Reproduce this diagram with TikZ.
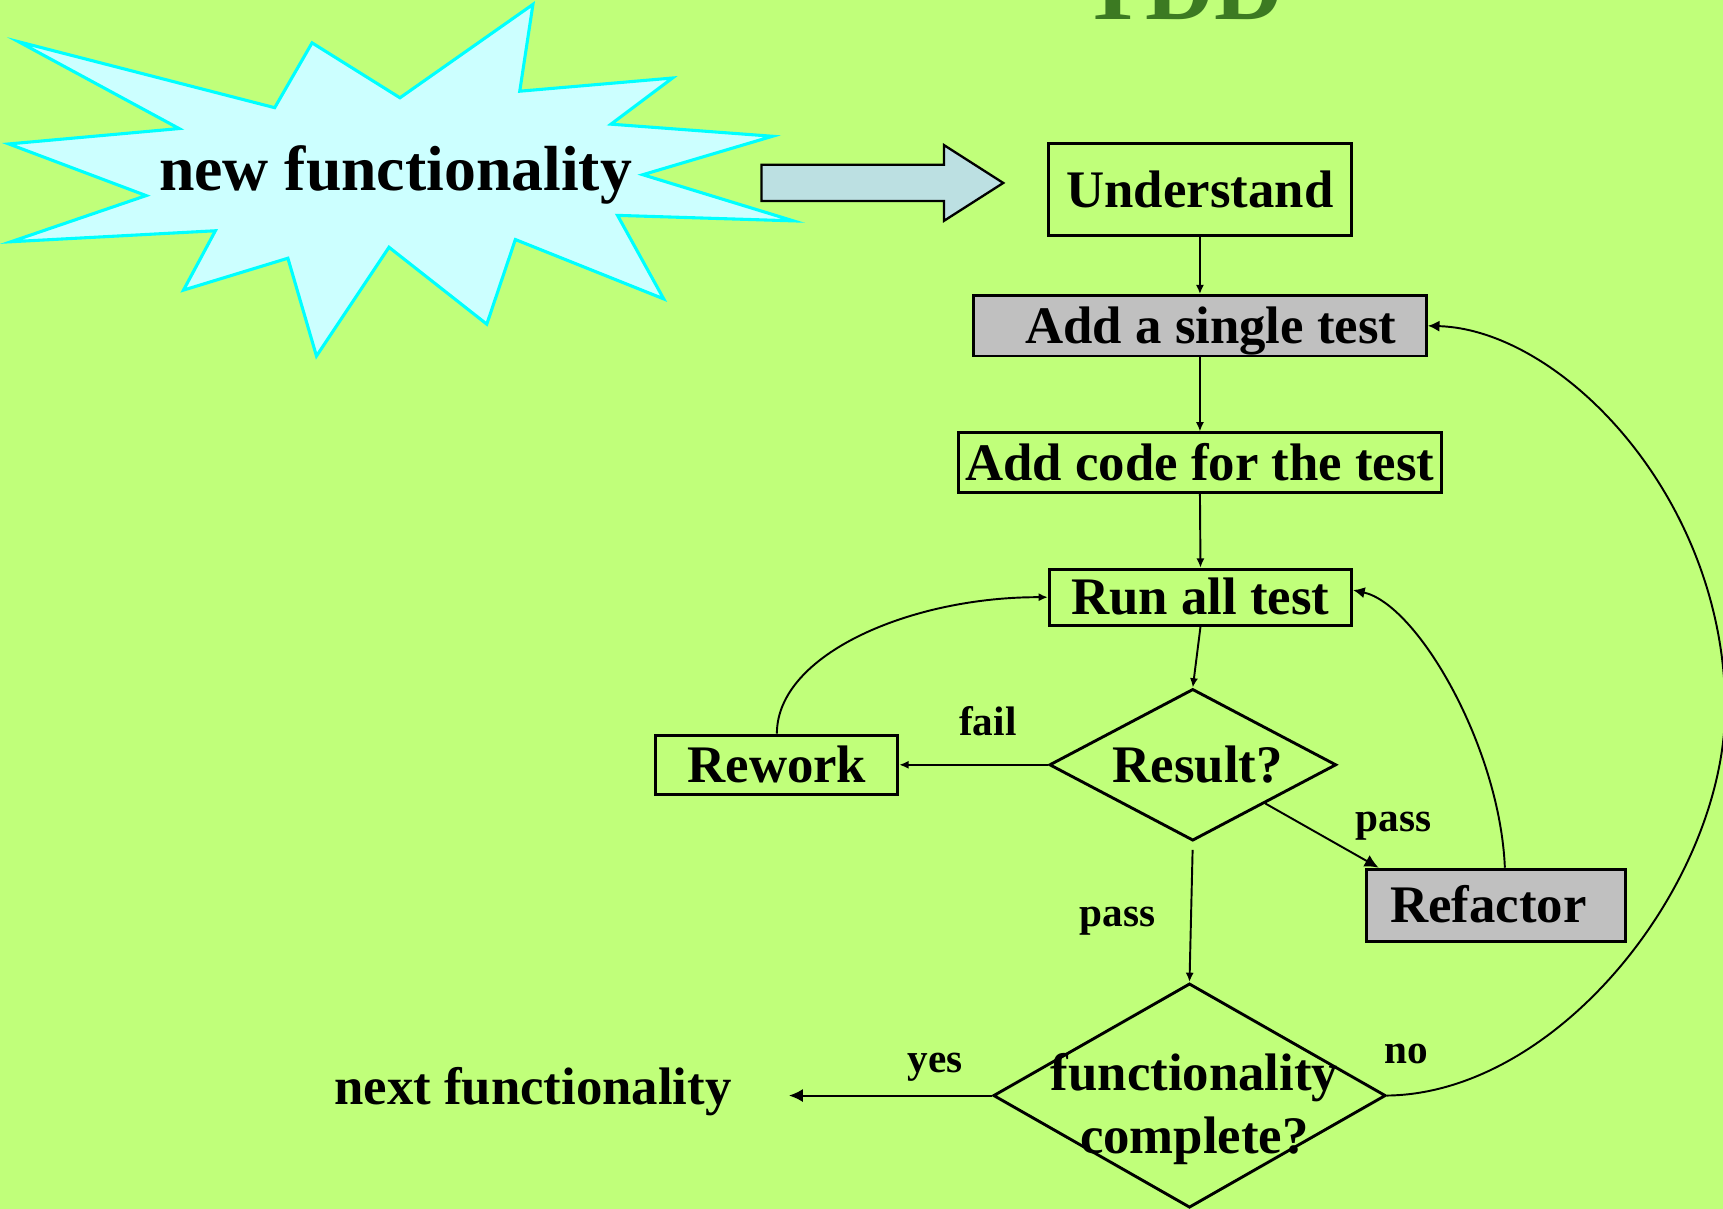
\documentclass[tikz,border=0pt]{standalone}
\usepackage{fontspec}
\setmainfont{Liberation Serif}
\usetikzlibrary{shapes.geometric,arrows.meta}

\definecolor{pagegreen}{RGB}{192,255,122}
\definecolor{titlegreen}{RGB}{60,122,34}
\definecolor{burstfill}{RGB}{204,255,255}
\definecolor{burstline}{RGB}{0,255,255}
\definecolor{arrowfill}{RGB}{188,224,226}
\definecolor{boxgrey}{RGB}{192,192,192}

\begin{document}
\begin{tikzpicture}[x=0.01cm,y=-0.01cm,
  boxfont/.style={font=\fontsize{13.66pt}{16pt}\selectfont\bfseries},
  stepbox/.style={boxfont, draw=black, line width=0.75pt, inner sep=0pt,
    text height=9.04pt, text depth=0pt},
  greybox/.style={stepbox, fill=boxgrey},
  decision/.style={boxfont, diamond, draw=black, line width=0.75pt, inner sep=0pt,
    text height=9.04pt, text depth=0pt},
  steptext/.style={boxfont, inner sep=0pt, anchor=base},
  lbl/.style={font=\fontsize{10.67pt}{12pt}\selectfont\bfseries, inner sep=0pt, anchor=base},
  flow/.style={-{Latex[length=2.4pt,width=2.1pt]}, line width=0.5pt},
  flowmid/.style={-{Latex[length=3pt,width=2.9pt]}, line width=0.5pt},
  flowbig/.style={-{Latex[length=3.6pt,width=3.4pt]}, line width=0.5pt},
  burst/.style={fill=burstfill, draw=burstline, line width=0.8pt, line join=miter},
  blockarrow/.style={fill=arrowfill, draw=black, line width=0.6pt, line join=miter}
]
\useasboundingbox (0,0) rectangle (1568,1100);
\fill[pagegreen] (0,0) rectangle (1568,1100);

% title, cut by the top edge
\node[anchor=base, inner sep=0pt, text=titlegreen,
  font=\fontsize{24.75pt}{28pt}\selectfont\bfseries] (title) at (1076,18) {TDD};

% starburst with its caption
\draw[burst] (17,38) -- (250,98) -- (284,39) -- (364,89) -- (485,4)
  -- (473,83) -- (612,71) -- (556,113) -- (703,124) -- (585,159)
  -- (722,201) -- (562,196) -- (604,272) -- (469,218) -- (443,295)
  -- (354,225) -- (288,324) -- (262,235) -- (167,264) -- (196,210)
  -- (10,220) -- (133,178) -- (8,131) -- (163,117) -- cycle;
\node[anchor=base, inner sep=0pt, font=\fontsize{16.5pt}{19pt}\selectfont\bfseries]
  (newfn) at (360,173) {new functionality};

% block arrow into the process
\draw[blockarrow] (693,150) -- (859,150) -- (859,132) -- (913,166.5)
  -- (859,201) -- (859,183) -- (693,183) -- cycle;

% process steps
\node[stepbox, minimum width=2.76cm, minimum height=0.83cm] (und) at (1092,172.5) {Understand};
\node[greybox, minimum width=4.12cm, minimum height=0.55cm] (single) at (1092,296.5) {\hspace*{0.2cm}Add a single test};
\node[stepbox, minimum width=4.40cm, minimum height=0.54cm] (code) at (1092,421) {Add code for the test};
\node[stepbox, minimum width=2.75cm, minimum height=0.51cm] (run) at (1092.5,543.5) {Run all test};
\node[decision, aspect=1.89, minimum width=2.61cm, minimum height=1.38cm] (result) at (1085.5,696) {\hspace*{0.09cm}Result?};
\node[stepbox, minimum width=2.20cm, minimum height=0.54cm] (rework) at (707,696) {Rework};
\node[greybox, minimum width=2.35cm, minimum height=0.66cm] (refactor) at (1361.5,824) {Refactor\hspace*{0.14cm}};
\node[decision, aspect=1.75, minimum width=3.57cm, minimum height=2.04cm] (complete) at (1082.5,997) {};
\node[steptext] (completeA) at (1087,992) {functionality};
\node[steptext] (completeB) at (1087,1050) {complete?};
\node[steptext] (next) at (485,1005) {next functionality};
\coordinate (nextin) at (718,997);

% connectors
\draw[flow] (und.south) -- (single.north);
\draw[flow] (single.south) -- (code.north);
\draw[flow] (code.south) -- (run.north);
\draw[flow] (run.south) -- (result.north);
\draw[flow] (result.west) -- (rework.east);
\draw[flow] (rework.north) .. controls (707,595) and (830,543) .. (run.west);
\draw[flowbig] (result.south east) -- ([xshift=0.12cm]refactor.north west);
\draw[flowmid] ([xshift=0.08cm]refactor.north) .. controls (1365,680) and (1290,550) .. ([yshift=0.065cm]run.east);
\draw[flow, shorten <=0.07cm] (result.south) -- (complete.north);
\draw[flowbig] (complete.west) -- (nextin);
\draw[flowmid] (complete.east) .. controls (1420,995) and (1572,800) .. (1570,640)
  .. controls (1567,450) and (1420,300) .. (single.east);

% branch labels
\node[lbl] (failtxt) at (899,669) {fail};
\node[lbl] (passright) at (1268,757) {pass};
\node[lbl] (passdown) at (1017,843) {pass};
\node[lbl] (yestxt) at (851,976) {yes};
\node[lbl] (notxt) at (1280,968) {no};
\end{tikzpicture}
\end{document}
